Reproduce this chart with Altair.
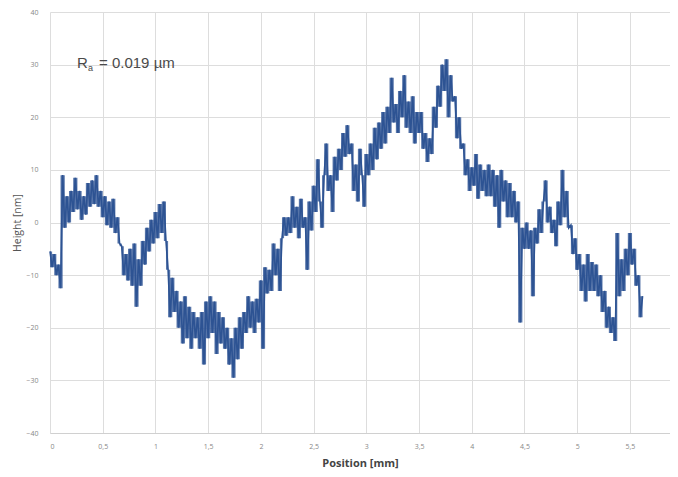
import altair as alt
import numpy as np
import pandas as pd

heights = [
    -5.5, -8.5, -6, -10, -8, -12.5, 9, -1, 5, 0,
    6, 2, 8.5, 2.5, 6, 0.5, 5, 1.5, 7.5, 3,
    8, 3.5, 9, 3, 6, 1, 5, -0.5, 4, -1,
    4.5, -2, 1, -4, -4.5, -10, -6, -11, -5, -12,
    -4, -16, -7, -12, -3.5, -8, -1, -5.5, 0.5, -4,
    2, -3, 3.5, -2, 4, -3.5, -9, -18, -10.5, -17,
    -13, -20, -15, -23, -14, -22, -16, -24, -17, -22,
    -18, -24, -17, -27, -15, -22, -14, -21, -15, -25,
    -17, -23, -18, -24, -20, -27, -22, -29.5, -20, -26,
    -18, -24, -17, -21, -14, -20, -15, -21, -14.5, -19,
    -11, -24, -8.5, -13.5, -9, -13, -4, -10, -5, -13,
    -3, 1, -2.5, 1, -2, 5, -1, 3, -3, 4.5,
    -1, 1, -9, 4, -1.5, 7, 2, 12, 4, -1,
    9, 15, 6, 9, 2, 12.5, 8, 14, 10, 17,
    12.5, 18.5, 13, 15, 6, 11, 4, 14, 9, 3,
    13, 9, 15, 10, 18, 12, 19, 14, 21, 15,
    22, 17, 27.5, 19, 22.5, 17, 25, 20, 28, 18,
    23, 17, 24, 15, 21, 17, 21, 14, 17, 11.5,
    16, 13, 22, 18, 26, 22, 30, 25, 31, 20,
    28, 23, 24, 16, 20, 14, 15, 9, 12, 6,
    10.5, 7, 13, 4.5, 11, 6, 10, 5, 11, 5,
    10, 3, 9, -1, 10, 4, 8, 1, 7.5, 1,
    6, 0, 4, -19, -1, -5, 0, -5, -1.5, -14,
    -1, -4, 2.5, -2, 4, 8, 0, 3, -2, 0.5,
    -4.5, 4, -0.5, 10, 1, 6, -1, -0.5, -6, -3,
    -9, -6, -13, -8, -15, -6, -13, -7.5, -13, -8,
    -14, -10, -17, -13, -20, -16, -21, -18, -22.5, -2,
    -14, -7, -13, -5, -10, -2, -8, -5, -12, -10,
    -18, -14,
]
step_mm = 0.02
positions = [round(i * step_mm, 3) for i in range(len(heights))]

x_ticks = [0, 0.5, 1, 1.5, 2, 2.5, 3, 3.5, 4, 4.5, 5, 5.5]
y_ticks = [-40, -30, -20, -10, 0, 10, 20, 30, 40]

df = pd.DataFrame({"pos": positions, "h": heights})
# band swept by each consecutive pair of readings (fills the dense trace)
nxt = df["h"].shift(-1).fillna(df["h"])
df["lo"] = np.minimum(df["h"], nxt)
df["hi"] = np.maximum(df["h"], nxt)

LINE = "#2D5393"

x_enc = alt.X("pos:Q",
              scale=alt.Scale(domain=[0, 5.88], nice=False, zero=False),
              axis=alt.Axis(values=x_ticks, title="Position [mm]",
                            labelExpr="replace(format(datum.value, '~g'), '.', ',')",
                            grid=True, gridColor="#dddddd", gridWidth=1,
                            domainColor="#d0d0d0", ticks=False,
                            labelFontSize=7, labelColor="#888888", labelPadding=9,
                            titleFontSize=11, titleColor="#444444", titleFontWeight="bold",
                            titlePadding=8, titleFont="Open Sans", labelFont="Open Sans"))
y_axis = alt.Axis(values=y_ticks, title="Height [nm]",
                  grid=True, gridColor="#dddddd", gridWidth=1,
                  domain=False, ticks=False,
                  labelFontSize=7, labelColor="#888888", labelPadding=12,
                  titleFontSize=10.5, titleColor="#555555", titleFontWeight="normal",
                  titlePadding=3, titleFont="Open Sans", labelFont="Open Sans")
y_scale = alt.Scale(domain=[-40, 40], nice=False)

band = alt.Chart(df).mark_area(color=LINE, opacity=0.8, interpolate="step-after").encode(
    x=x_enc,
    y=alt.Y("lo:Q", scale=y_scale, axis=y_axis),
    y2="hi:Q",
)

line = alt.Chart(df).mark_line(color=LINE, strokeWidth=1.6).encode(
    x=alt.X("pos:Q"),
    y=alt.Y("h:Q"),
)

FONT = "Liberation Sans"
TXT = "#4a4a4a"
label = alt.Chart(pd.DataFrame({"t": ["R"]})).mark_text(
    align="left", baseline="middle", fontSize=15, color=TXT, font=FONT
).encode(x=alt.value(27), y=alt.value(51), text="t:N")

sub = alt.Chart(pd.DataFrame({"t": ["a"]})).mark_text(
    align="left", baseline="middle", fontSize=9, color=TXT, font=FONT
).encode(x=alt.value(38), y=alt.value(56), text="t:N")

rest = alt.Chart(pd.DataFrame({"t": ["= 0.019 µm"]})).mark_text(
    align="left", baseline="middle", fontSize=15, color=TXT, font=FONT
).encode(x=alt.value(49), y=alt.value(51), text="t:N")

chart = alt.layer(band, line, label, sub, rest).properties(
    width=620, height=421,
    autosize=alt.AutoSizeParams(type="none"),
    padding={"left": 42, "top": 4, "right": 0, "bottom": 36},
).configure_view(stroke=None)

chart.save("out.html", embed_options={"renderer": "svg", "actions": False})
